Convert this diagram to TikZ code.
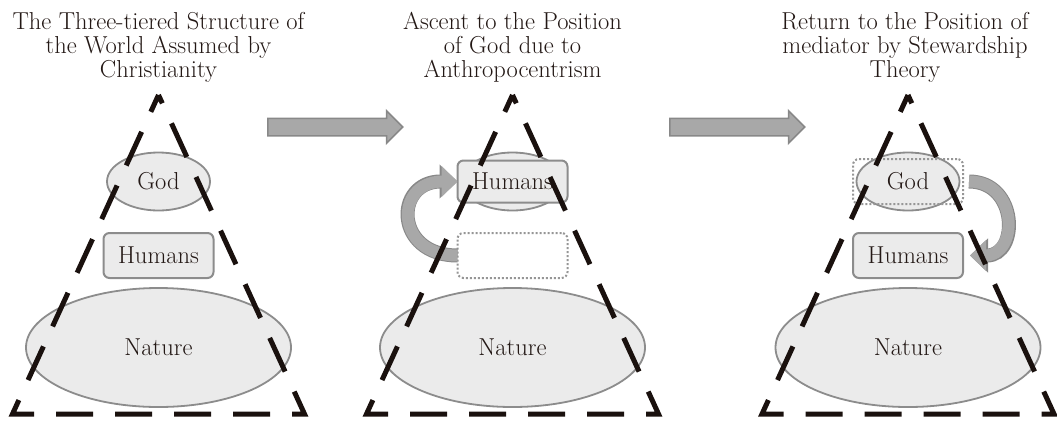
\documentclass[tikz,border=0pt]{standalone}
\usepackage{tikz}
\usetikzlibrary{positioning,arrows.meta,shapes.geometric,shapes.arrows}
\definecolor{colorline}  {RGB}{26,17,14}
\definecolor{colortext}  {RGB}{35,24,21}
\definecolor{colorshape} {RGB}{235,235,235}
\definecolor{colorborder}{RGB}{140,140,140}
\definecolor{colordots}  {RGB}{150,150,150}
\definecolor{colorarrow} {RGB}{168,168,168}
\definecolor{coloredge}  {RGB}{136,136,136}

\begin{document}
\begin{tikzpicture}[
    x=1pt, y=-1pt,
    node distance = 22.5pt,
    font={\fontsize{24.5}{24}\selectfont}, text=colortext,
    heading/.style={align=center,inner sep=0pt,anchor=north},
    god/.style={ellipse,draw=colorborder,line width=1.8pt,fill=colorshape,minimum width=103pt,minimum height=58pt,inner sep=0pt,outer sep=0pt},
    being/.style={rectangle,rounded corners=6pt,draw=colorborder,line width=2pt,fill=colorshape,minimum width=110pt,minimum height=45pt,inner sep=0pt,outer sep=0pt},
    vacant/.style={rectangle,rounded corners=6pt,draw=colordots,line width=2pt,dash pattern=on 2pt off 2pt,minimum width=110pt,minimum height=45pt,inner sep=0pt,outer sep=0pt},
    nature/.style={ellipse,draw=colorborder,line width=1.8pt,fill=colorshape,minimum width=265pt,minimum height=119pt,inner sep=0pt,outer sep=0pt},
    tier/.style={draw=colorline,line width=5pt,dash pattern=on 37pt off 22pt,dash phase=18.5pt},
    stagearrow/.style={single arrow,draw=coloredge,fill=colorarrow,line width=1.5pt,inner xsep=0pt,inner ysep=8pt,single arrow head extend=7.5pt,minimum height=135pt},
    swing/.style={draw=colorarrow,line width=12pt,-{Triangle[width=30pt,length=16pt]},
        preaction={draw=coloredge,line width=14pt,-{Triangle[width=33pt,length=18pt]}}},
]
    \useasboundingbox (0,0) rectangle (1057,424);

    % Headings
    \node[heading] (title1) at (158.5,12) {The Three-tiered Structure of\\the World Assumed by\\Christianity};
    \node[heading] (title2) at (512.5,12) {Ascent to the Position\\of God due to\\Anthropocentrism};
    \node[heading] (title3) at (905,12) {Return to the Position of\\mediator by Stewardship\\Theory};

    % Three tiers
    \node[god] (god1) at (158.5,181.5) {God};
    \node[being, below=of god1] (humans1) {Humans};
    \node[nature, below=10pt of humans1] (nature1) {Nature};

    % Ascent
    \node[god] (god2) at (512.5,181.5) {};
    \node[being, minimum height=42pt] (humans2) at (god2) {Humans};
    \node[vacant, below=of god2] (vacant2) {};
    \node[nature, below=10pt of vacant2] (nature2) {Nature};

    % Return
    \node[god] (god3) at (908,181.5) {God};
    \node[vacant] (vacant3) at (god3) {};
    \node[being, below=of god3] (humans3) {Humans};
    \node[nature, below=10pt of humans3] (nature3) {Nature};

    % Moves
    \draw[swing] (vacant2.west) to[out=180,in=180,looseness=2.2] (humans2.west);
    \draw[swing] ([xshift=6pt]vacant3.east) to[out=0,in=0,looseness=1.7] ([xshift=7pt]humans3.east);

    % Stages
    \node[stagearrow, anchor=tail] (stage12) at (267,127) {};
    \node[stagearrow, anchor=tail] (stage23) at (669,127) {};

    % Triangles
    \draw[tier] (158.5,95) -- ++(-146,319) -- ++(292,0) -- cycle;
    \draw[tier] (512.5,95) -- ++(-146,319) -- ++(292,0) -- cycle;
    \draw[tier] (908,95) -- ++(-146,319) -- ++(292,0) -- cycle;

\end{tikzpicture}
\end{document}
